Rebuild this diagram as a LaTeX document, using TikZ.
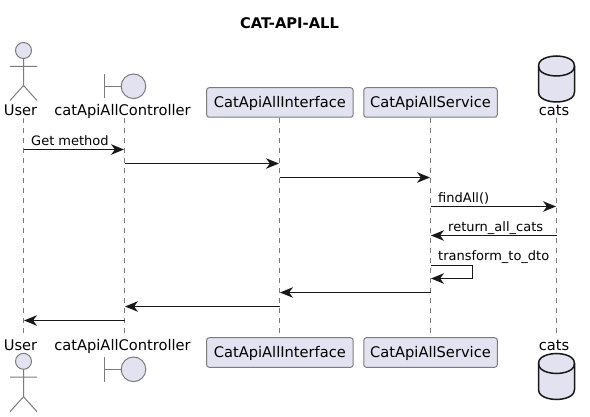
\documentclass[tikz,border=0pt]{standalone}
\usepackage{fontspec}
\setmainfont{DejaVu Sans}
\usetikzlibrary{arrows.meta}
\definecolor{partfill}{HTML}{E2E2F0}
\definecolor{ink}{HTML}{181818}
\definecolor{thin}{HTML}{7C7C7C}
\tikzset{
  lifeline/.style={draw=thin,line width=1pt,dash pattern=on 5pt off 5pt},
  msg/.style={draw=ink,line width=1pt,-{Stealth[length=13pt,width=10.5pt,inset=4pt,fill=ink]},shorten >=0.5pt},
  msgtext/.style={anchor=base west,inner sep=0pt,font=\fontsize{13}{15}\selectfont,text=black},
  nametext/.style={anchor=base,inner sep=0pt,font=\fontsize{14.65}{16}\selectfont,text=black},
  titletext/.style={anchor=base,inner sep=0pt,font=\fontsize{14.7}{16}\selectfont\bfseries,text=black},
  partbox/.style={draw=thin,line width=1pt,fill=partfill,rounded corners=2.5pt,minimum width=146.5pt,minimum height=29.5pt,inner sep=0pt},
  shapeline/.style={draw=thin,line width=1pt},
  shapefill/.style={draw=thin,line width=1pt,fill=partfill},
  dbshape/.style={draw=ink,line width=1.5pt,fill=partfill},
  headc/.style={circle,shapefill,minimum size=16pt,inner sep=0pt},
  bndc/.style={circle,shapefill,minimum size=24.6pt,inner sep=0pt}
}
\begin{document}
\begin{tikzpicture}[x=1pt,y=1pt]
\useasboundingbox[fill=white] (0,0) rectangle (590,-417);

% lifeline anchors
\coordinate (Ut) at (23.5,-118);   \coordinate (Ub) at (23.5,-337);
\coordinate (Ct) at (124.5,-118);  \coordinate (Cb) at (124.5,-337);
\coordinate (It) at (279.5,-118);  \coordinate (Ib) at (279.5,-337);
\coordinate (St) at (430.5,-118);  \coordinate (Sb) at (430.5,-337);
\coordinate (Dt) at (556.5,-118);  \coordinate (Db) at (556.5,-337);
\draw[lifeline] (Ut) -- (Ub);
\draw[lifeline] (Ct) -- (Cb);
\draw[lifeline] (It) -- (Ib);
\draw[lifeline] (St) -- (Sb);
\draw[lifeline] (Dt) -- (Db);

% title
\node[titletext] (title) at (289.5,-28.5) {CAT-API-ALL};

% User, top
\node[headc] (uhT) at (23.5,-50.5) {};
\coordinate (uhipT) at (23.5,-85.5);
\coordinate (ularmT) at (10,-66.5);
\coordinate (urarmT) at (37,-66.5);
\coordinate (ullegT) at (10,-100.5);
\coordinate (urlegT) at (37,-100.5);
\draw[shapeline] (uhT.south) -- (uhipT) (ularmT) -- (urarmT) (ullegT) -- (uhipT) -- (urlegT);
\node[nametext] (ulT) at (20.5,-116) {User};

% User, bottom
\node[headc] (uhB) at (23.5,-361.3) {};
\coordinate (uhipB) at (23.5,-396.7);
\coordinate (ularmB) at (10,-377);
\coordinate (urarmB) at (37,-377);
\coordinate (ullegB) at (10,-411.7);
\coordinate (urlegB) at (37,-411.7);
\draw[shapeline] (uhB.south) -- (uhipB) (ularmB) -- (urarmB) (ullegB) -- (uhipB) -- (urlegB);
\node[nametext] (ulB) at (20.5,-351) {User};

% Controller, top
\node[bndc] (cT) at (133.5,-86.3) {};
\coordinate (cbar1T) at (104.5,-74);
\coordinate (cbar2T) at (104.5,-98.5);
\coordinate (cbarmT) at (104.5,-86.3);
\draw[shapeline] (cbar1T) -- (cbar2T) (cbarmT) -- (cT.west);
\node[nametext] (clT) at (122.5,-116) {catApiAllController};

% Controller, bottom
\node[bndc] (cB) at (133.5,-369.3) {};
\coordinate (cbar1B) at (104.5,-357);
\coordinate (cbar2B) at (104.5,-381.5);
\coordinate (cbarmB) at (104.5,-369.3);
\draw[shapeline] (cbar1B) -- (cbar2B) (cbarmB) -- (cB.west);
\node[nametext] (clB) at (122.5,-351) {catApiAllController};

% Boxes
\node[partbox] (iT) at (279.9,-102.5) {};
\node[partbox] (iB) at (279.9,-352.5) {};
\node[partbox,minimum width=133.5pt] (sT) at (430.5,-102.5) {};
\node[partbox,minimum width=133.5pt] (sB) at (430.5,-352.5) {};
\node[nametext] (iTt) at (279.9,-107.5) {CatApiAllInterface};
\node[nametext] (iBt) at (279.9,-357.5) {CatApiAllInterface};
\node[nametext] (sTt) at (430.5,-107.5) {CatApiAllService};
\node[nametext] (sBt) at (430.5,-357.5) {CatApiAllService};

% Database, top
\draw[dbshape] (538.5,-66) .. controls (538.5,-56) and (556.5,-56) .. (556.5,-56)
  .. controls (556.5,-56) and (574.5,-56) .. (574.5,-66) -- (574.5,-92)
  .. controls (574.5,-102) and (556.5,-102) .. (556.5,-102)
  .. controls (556.5,-102) and (538.5,-102) .. (538.5,-92) -- cycle;
\draw[dbshape,fill=none] (538.5,-66) .. controls (538.5,-76) and (556.5,-76) .. (556.5,-76)
  .. controls (556.5,-76) and (574.5,-76) .. (574.5,-66);
\node[nametext] (dlT) at (554,-116) {cats};

% Database, bottom
\draw[dbshape] (538.5,-363.5) .. controls (538.5,-353.5) and (556.5,-353.5) .. (556.5,-353.5)
  .. controls (556.5,-353.5) and (574.5,-353.5) .. (574.5,-363.5) -- (574.5,-389.5)
  .. controls (574.5,-399.5) and (556.5,-399.5) .. (556.5,-399.5)
  .. controls (556.5,-399.5) and (538.5,-399.5) .. (538.5,-389.5) -- cycle;
\draw[dbshape,fill=none] (538.5,-363.5) .. controls (538.5,-373.5) and (556.5,-373.5) .. (556.5,-373.5)
  .. controls (556.5,-373.5) and (574.5,-373.5) .. (574.5,-363.5);
\node[nametext] (dlB) at (554,-351) {cats};

% message rows
\coordinate (y1) at (0,-149.5);
\coordinate (y2) at (0,-163.5);
\coordinate (y3) at (0,-177.5);
\coordinate (y4) at (0,-206.5);
\coordinate (y5) at (0,-235.5);
\coordinate (y6a) at (0,-265.5);
\coordinate (y6b) at (0,-278.5);
\coordinate (y7) at (0,-292.5);
\coordinate (y8) at (0,-306.5);
\coordinate (y9) at (0,-320.5);
\coordinate (loopx) at (472.5,0);

\draw[msg] (Ut |- y1) -- (Ct |- y1);
\draw[msg] (Ct |- y2) -- (It |- y2);
\draw[msg] (It |- y3) -- (St |- y3);
\draw[msg] (St |- y4) -- (Dt |- y4);
\draw[msg] (Dt |- y5) -- (St |- y5);
\draw[msg] (St |- y6a) -- (loopx |- y6a) -- (loopx |- y6b) -- (St |- y6b);
\draw[msg] (St |- y7) -- (It |- y7);
\draw[msg] (It |- y8) -- (Ct |- y8);
\draw[msg] (Ct |- y9) -- (Ut |- y9);

\node[msgtext] (t1) at (31,-145.5) {Get method};
\node[msgtext] (t4) at (438,-202.5) {findAll()};
\node[msgtext] (t5) at (448,-231.5) {return\_all\_cats};
\node[msgtext] (t6) at (438,-261) {transform\_to\_dto};
\end{tikzpicture}
\end{document}
